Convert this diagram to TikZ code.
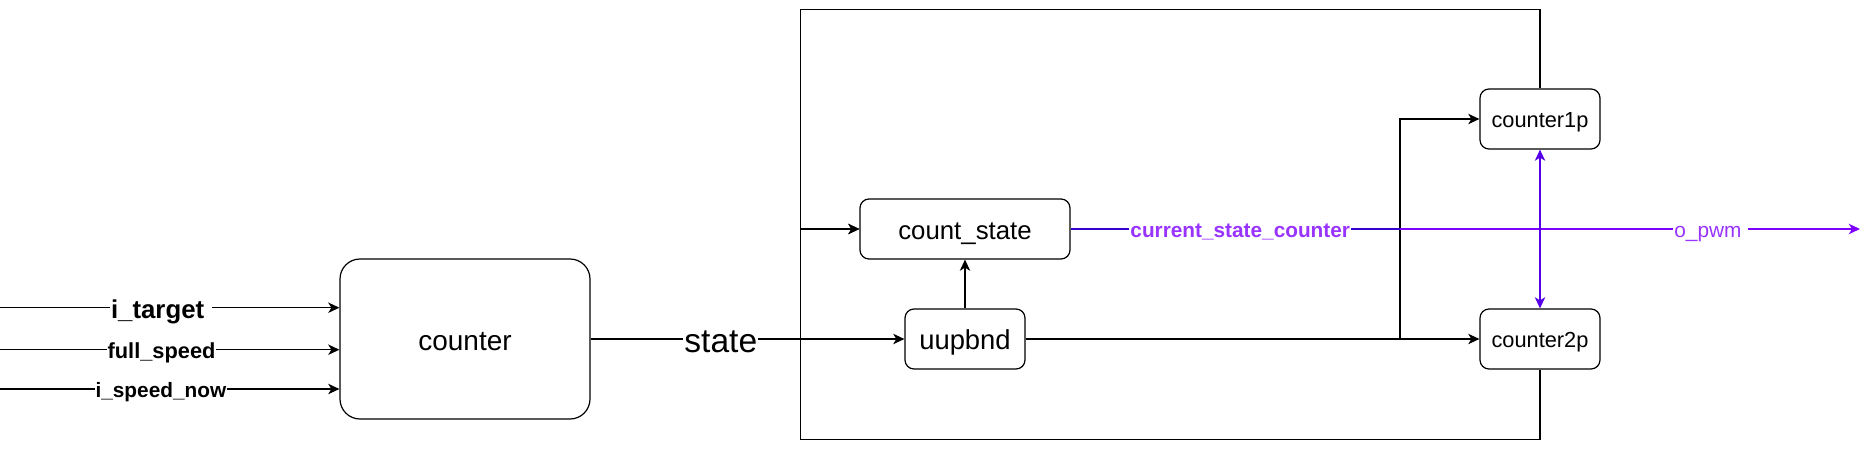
\documentclass[tikz,border=0pt]{standalone}
\usepackage{fontspec}
\setmainfont{Liberation Sans}
\usetikzlibrary{arrows.meta}
\definecolor{darkind}{HTML}{3300CC}
\definecolor{vio}{HTML}{7F00FF}
\definecolor{vblue}{HTML}{5500E6}
\definecolor{ptext}{HTML}{9933FF}
\begin{document}
\begin{tikzpicture}[x=0.5pt,y=-0.5pt,
  fs/.style={font=\fontsize{#1pt}{#1pt}\selectfont, text height=0.8*#1pt, text depth=0pt},
  fsb/.style={font=\fontsize{#1pt}{#1pt}\selectfont\bfseries, text height=0.8*#1pt, text depth=0pt},
  box/.style={draw, line width=0.6pt, rounded corners=4.5pt, inner sep=0pt, minimum width=60pt, minimum height=30pt},
  tip/.tip={Stealth[length=5.6pt,width=5.2pt,inset=1.6pt]},
  arr/.style={line width=0.6pt, -tip},
  lbl/.style={fill=white, inner xsep=0.5pt, inner ysep=0pt},
]
\useasboundingbox (0,0) rectangle (1860,451);

% boxes
\node[box, rounded corners=10pt, minimum width=125pt, minimum height=80pt, fs=14] (counter) at (465,339) {counter};
\node[box, minimum width=105pt, fs=12.9] (cs) at (965,229) {count\_state};
\node[box, fs=13.7] (uup) at (965,339) {uupbnd};
\node[box, fs=10.9] (c1p) at (1540,119) {counter1p};
\node[box, fs=10.9] (c2p) at (1540,339) {counter2p};

% inputs
\coordinate (in1) at (0,307.7);
\coordinate (in2) at (0,349.7);
\coordinate (in3) at (0,389);
\draw[arr] (in1) -- node[lbl, pos=0.475, fsb=12.9] {i\_target\kern3.6pt} (in1 -| counter.west);
\draw[arr] (in2) -- node[lbl, pos=0.476, fsb=10.9] {full\_speed} (in2 -| counter.west);
\draw[arr] (in3) -- node[lbl, pos=0.474, fsb=10.4] {i\_speed\_now} (in3 -| counter.west);

% state
\draw[arr] (counter.east) -- node[lbl, pos=0.415, fs=16.8] {state} (uup.west);

% uupbnd connections
\coordinate (br) at (1400,339);
\draw[arr] (uup.north) -- (cs.south);
\draw[arr] (uup.east) -- (c2p.west);
\draw[arr] (br) |- (c1p.west);

% feedback frame
\coordinate (tl) at (800.7,9.3);
\coordinate (bl) at (800.7,439.3);
\draw[arr] (c1p.north) |- (tl) |- (cs.west);
\draw[arr] (c2p.south) |- (bl) |- (cs.west);

% purple output
\coordinate (out) at (1860,229);
\coordinate (mid) at (1400,229);
\draw[arr, vio, line width=0.6pt] (cs.east) -- node[lbl, pos=0.811, fs=10.4, text=ptext] {o\_pwm\kern2.9pt} (out);
\draw[darkind, line width=0.6pt] (cs.east) -- node[lbl, pos=0.515, fsb=10.4, text=ptext] {current\_state\_counter} (mid);
\draw[vblue, line width=0.6pt, tip-tip] (c1p.south) -- (c2p.north);
\end{tikzpicture}
\end{document}
